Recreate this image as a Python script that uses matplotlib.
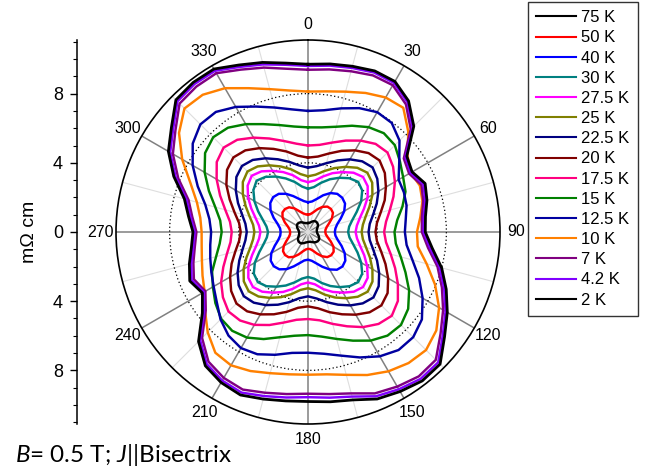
import numpy as np
import matplotlib.pyplot as plt
from matplotlib.lines import Line2D

plt.rcParams['font.family'] = ['Liberation Sans', 'DejaVu Sans']
plt.rcParams['mathtext.fontset'] = 'custom'
plt.rcParams['mathtext.rm'] = 'Lato'
plt.rcParams['mathtext.it'] = 'Lato:italic'

# sample directions (deg, clockwise from the top), 7.5 deg apart
angles = np.arange(0, 360, 7.5)

temps = ['75 K', '50 K', '40 K', '30 K', '27.5 K', '25 K', '22.5 K', '20 K',
         '17.5 K', '15 K', '12.5 K', '10 K', '7 K', '4.2 K', '2 K']
colors = ['black', '#ff0000', '#0000ff', '#008080', '#ff00ff', '#808000',
          '#000080', '#800000', '#ff0080', '#008000', '#0000a0', '#ff8000',
          '#800080', '#8000ff', 'black']

# resistivity (mOhm cm) for each temperature, one value per direction
rho_75K = [0.52, 0.53, 0.58, 0.66, 0.73, 0.76, 0.75, 0.72, 0.66, 0.58, 0.53, 0.51,
           0.52, 0.54, 0.60, 0.68, 0.75, 0.78, 0.77, 0.74, 0.69, 0.63, 0.59, 0.57,
           0.58, 0.60, 0.64, 0.70, 0.76, 0.78, 0.77, 0.73, 0.66, 0.58, 0.53, 0.51,
           0.52, 0.54, 0.60, 0.68, 0.74, 0.77, 0.75, 0.71, 0.64, 0.57, 0.53, 0.52]
rho_50K = [1.00, 1.04, 1.18, 1.42, 1.68, 1.85, 1.88, 1.82, 1.60, 1.32, 1.12, 1.02,
           1.00, 1.04, 1.18, 1.42, 1.70, 1.87, 1.90, 1.83, 1.62, 1.35, 1.12, 1.00,
           0.97, 1.02, 1.16, 1.40, 1.66, 1.84, 1.88, 1.82, 1.62, 1.35, 1.15, 1.05,
           1.03, 1.07, 1.20, 1.45, 1.70, 1.86, 1.88, 1.80, 1.58, 1.30, 1.12, 1.03]
rho_40K = [1.72, 1.78, 1.98, 2.30, 2.60, 2.78, 2.80, 2.70, 2.42, 2.05, 1.75, 1.60,
           1.55, 1.60, 1.78, 2.10, 2.45, 2.72, 2.82, 2.75, 2.50, 2.18, 1.88, 1.68,
           1.60, 1.66, 1.86, 2.15, 2.48, 2.72, 2.80, 2.72, 2.45, 2.08, 1.78, 1.62,
           1.58, 1.63, 1.82, 2.15, 2.50, 2.75, 2.85, 2.78, 2.55, 2.25, 1.98, 1.80]
rho_30K = [2.50, 2.62, 2.95, 3.30, 3.62, 3.92, 4.10, 3.95, 3.55, 3.05, 2.65, 2.40,
           2.32, 2.42, 2.70, 3.10, 3.55, 3.95, 4.10, 3.95, 3.68, 3.38, 3.05, 2.72,
           2.60, 2.72, 3.02, 3.35, 3.65, 3.95, 4.10, 3.95, 3.55, 3.05, 2.65, 2.40,
           2.31, 2.42, 2.70, 3.12, 3.58, 3.98, 4.20, 4.02, 3.70, 3.35, 3.00, 2.65]
rho_27K5 = [2.88, 3.00, 3.32, 3.68, 4.00, 4.32, 4.50, 4.35, 3.98, 3.50, 3.10, 2.85,
            2.75, 2.86, 3.12, 3.52, 3.95, 4.35, 4.50, 4.35, 4.05, 3.75, 3.42, 3.05,
            2.92, 3.05, 3.40, 3.75, 4.05, 4.35, 4.50, 4.35, 3.98, 3.50, 3.10, 2.85,
            2.75, 2.86, 3.14, 3.55, 4.00, 4.40, 4.60, 4.42, 4.08, 3.75, 3.40, 3.02]
rho_25K = [3.22, 3.34, 3.65, 4.00, 4.35, 4.68, 4.85, 4.68, 4.30, 3.85, 3.45, 3.20,
           3.10, 3.20, 3.48, 3.88, 4.30, 4.70, 4.88, 4.72, 4.42, 4.10, 3.75, 3.40,
           3.25, 3.38, 3.72, 4.08, 4.40, 4.70, 4.85, 4.68, 4.30, 3.85, 3.45, 3.20,
           3.10, 3.20, 3.50, 3.90, 4.35, 4.75, 4.95, 4.78, 4.45, 4.10, 3.75, 3.38]
rho_22K5 = [3.72, 3.84, 4.12, 4.48, 4.85, 5.15, 5.28, 5.05, 4.70, 4.30, 3.90, 3.60,
            3.50, 3.60, 3.90, 4.32, 4.75, 5.15, 5.35, 5.20, 4.90, 4.55, 4.20, 3.88,
            3.72, 3.86, 4.20, 4.55, 4.88, 5.15, 5.25, 5.05, 4.70, 4.30, 3.92, 3.65,
            3.54, 3.65, 3.95, 4.38, 4.82, 5.22, 5.40, 5.25, 4.92, 4.55, 4.20, 3.88]
rho_20K = [4.30, 4.40, 4.70, 5.08, 5.45, 5.75, 5.85, 5.60, 5.20, 4.80, 4.35, 4.02,
           3.90, 4.02, 4.38, 4.85, 5.35, 5.80, 6.00, 5.85, 5.52, 5.15, 4.80, 4.45,
           4.30, 4.42, 4.78, 5.15, 5.50, 5.78, 5.85, 5.60, 5.20, 4.78, 4.35, 4.02,
           3.89, 4.02, 4.40, 4.90, 5.45, 5.90, 6.10, 5.95, 5.60, 5.20, 4.82, 4.45]
rho_17K5 = [5.00, 5.08, 5.35, 5.72, 6.10, 6.42, 6.50, 6.20, 5.80, 5.35, 4.90, 4.55,
            4.40, 4.55, 4.95, 5.45, 6.00, 6.55, 6.85, 6.70, 6.35, 5.90, 5.50, 5.15,
            5.03, 5.12, 5.42, 5.82, 6.20, 6.45, 6.50, 6.20, 5.80, 5.30, 4.85, 4.52,
            4.41, 4.55, 4.95, 5.50, 6.10, 6.65, 6.90, 6.72, 6.30, 5.85, 5.45, 5.15]
rho_15K = [6.05, 6.10, 6.30, 6.65, 7.00, 7.20, 7.10, 6.70, 6.35, 6.10, 5.65, 5.20,
           5.00, 5.12, 5.55, 6.10, 6.75, 7.30, 7.60, 7.55, 7.25, 6.80, 6.40, 6.10,
           5.96, 6.05, 6.30, 6.70, 7.05, 7.20, 7.10, 6.75, 6.35, 6.00, 5.50, 5.15,
           4.99, 5.12, 5.55, 6.20, 6.90, 7.50, 7.75, 7.60, 7.20, 6.75, 6.40, 6.15]
rho_12K5 = [7.00, 7.10, 7.40, 7.75, 8.00, 7.95, 7.48, 6.65, 6.05, 6.00, 5.90, 5.70,
            5.60, 5.75, 6.25, 6.95, 7.65, 8.30, 8.60, 8.60, 8.30, 7.85, 7.40, 7.10,
            6.98, 7.05, 7.35, 7.65, 7.75, 7.55, 7.15, 6.65, 6.30, 6.05, 5.85, 5.70,
            5.60, 5.75, 6.15, 6.90, 7.70, 8.40, 8.80, 8.75, 8.35, 7.85, 7.45, 7.15]
rho_10K = [8.12, 8.20, 8.40, 8.70, 8.98, 9.05, 8.20, 7.25, 6.85, 7.00, 6.85, 6.55,
           6.30, 6.40, 7.10, 7.95, 8.75, 9.35, 9.65, 9.55, 9.30, 8.95, 8.55, 8.30,
           8.25, 8.30, 8.45, 8.70, 8.90, 8.80, 8.20, 7.50, 6.90, 6.60, 6.35, 6.20,
           6.15, 6.28, 6.65, 7.35, 8.40, 9.40, 10.10, 10.00, 9.60, 9.00, 8.55, 8.25]
rho_7K = [9.38, 9.48, 9.62, 9.80, 9.80, 9.30, 8.40, 6.98, 6.75, 7.10, 6.90, 6.64,
          6.58, 7.00, 7.75, 8.38, 9.02, 9.66, 10.45, 10.52, 10.32, 10.10, 9.66, 9.45,
          9.35, 9.45, 9.62, 9.86, 9.74, 9.45, 8.66, 7.45, 6.85, 7.14, 6.86, 6.60,
          6.45, 6.75, 7.15, 8.12, 9.02, 9.66, 10.50, 10.60, 10.60, 10.16, 9.84, 9.52]
rho_4K2 = [9.60, 9.70, 9.82, 9.98, 9.95, 9.45, 8.55, 7.10, 6.85, 7.22, 7.02, 6.75,
           6.68, 7.12, 7.88, 8.52, 9.18, 9.82, 10.65, 10.70, 10.50, 10.28, 9.85, 9.66,
           9.55, 9.65, 9.82, 10.05, 9.92, 9.62, 8.82, 7.58, 6.95, 7.28, 6.98, 6.70,
           6.55, 6.86, 7.28, 8.28, 9.20, 9.82, 10.68, 10.78, 10.76, 10.33, 10.03, 9.75]
rho_2K = [9.70, 9.80, 9.92, 10.08, 10.05, 9.55, 8.65, 7.20, 6.95, 7.33, 7.12, 6.85,
          6.78, 7.25, 8.00, 8.65, 9.30, 9.95, 10.80, 10.85, 10.65, 10.45, 10.05, 9.90,
          9.80, 9.85, 10.00, 10.20, 10.05, 9.75, 8.95, 7.70, 7.05, 7.40, 7.10, 6.80,
          6.65, 6.97, 7.40, 8.40, 9.32, 9.95, 10.80, 10.90, 10.88, 10.45, 10.15, 9.85]

curves = [rho_75K, rho_50K, rho_40K, rho_30K, rho_27K5, rho_25K, rho_22K5, rho_20K,
          rho_17K5, rho_15K, rho_12K5, rho_10K, rho_7K, rho_4K2, rho_2K]

rmax = 11.1
W, H = 655, 470
fig = plt.figure(figsize=(W / 100, H / 100), dpi=100)

# polar plot, centre at (308, 232) px, radius 192 px
cx, cy, rad = 308, 232, 192
ax = fig.add_axes([(cx - rad) / W, (H - cy - rad) / H, 2 * rad / W, 2 * rad / H],
                  projection='polar')
ax.set_theta_zero_location('N')
ax.set_theta_direction(-1)
ax.set_ylim(0, rmax)

th = np.deg2rad(np.append(angles, angles[0]))
handles = []
for rho, col, lab in zip(curves, colors, temps):
    r = np.append(rho, rho[0])
    lw = 2.0 if lab == '2 K' else 1.75
    ax.plot(th, r, color=col, lw=lw, solid_joinstyle='round', zorder=3)
    handles.append(Line2D([], [], color=col, lw=1.5))

ax.set_xticks(np.deg2rad(np.arange(0, 360, 30)))
ax.set_xticklabels([str(a) for a in range(0, 360, 30)], fontsize=11.5)
ax.set_xticks(np.deg2rad(np.arange(15, 360, 30)), minor=True)
ax.xaxis.grid(True, which='major', color='#808080', lw=1.1)
ax.xaxis.grid(True, which='minor', color='#dedede', lw=0.8)
ax.tick_params(axis='x', which='major', direction='in', length=6, width=1.2,
               color='black', pad=4.5)
ax.tick_params(axis='x', which='minor', direction='in', length=3.5, width=0.8,
               color='black')
ax.set_rgrids([4, 8], labels=['', ''])
ax.yaxis.grid(True, color='black', ls=(0, (1, 2)), lw=0.9)
ax.spines['polar'].set_linewidth(1.2)
ax.set_axisbelow(True)

# linear scale on the left, same length as the polar diameter
lax = fig.add_axes([77 / W, (H - cy - rad) / H, 0.0001, 2 * rad / H])
lax.set_ylim(-rmax, rmax)
lax.set_yticks([-8, -4, 0, 4, 8])
lax.set_yticklabels(['8', '4', '0', '4', '8'], fontsize=13)
lax.set_yticks(np.arange(-11, 12, 1), minor=True)
lax.tick_params(axis='y', which='major', direction='out', length=5, width=1, pad=5)
lax.tick_params(axis='y', which='minor', direction='out', length=3, width=0.8)
lax.set_xticks([])
for s in ['top', 'right', 'bottom']:
    lax.spines[s].set_visible(False)
lax.spines['left'].set_linewidth(1.1)
lax.patch.set_visible(False)
fig.text(30 / W, 1 - cy / H, 'mΩ cm', rotation=90, ha='center', va='center',
         fontsize=14)

leg = fig.legend(handles, temps, loc='upper left',
                 bbox_to_anchor=(528 / W, 1 - 2 / H), fontsize=12,
                 frameon=True, fancybox=False, edgecolor='black',
                 handlelength=2.35, handletextpad=0.35, labelspacing=0.31,
                 borderpad=0.5, borderaxespad=0)
leg.get_frame().set_linewidth(1.0)

fig.text(15 / W, 8 / H, r'$B$= 0.5 T; $J$||Bisectrix', fontsize=17.5,
         family='Lato', ha='left', va='baseline')

fig.savefig('out.png', dpi=100)
